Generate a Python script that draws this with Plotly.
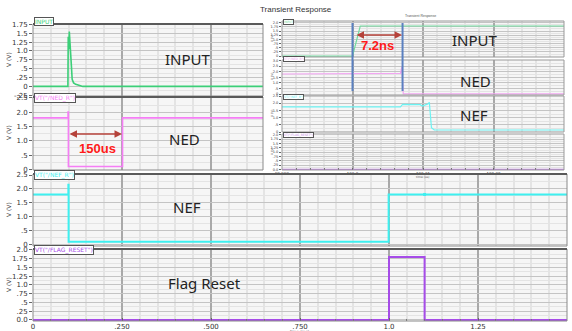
import plotly.graph_objects as go

W, H = 572, 331

# ---------------- data ----------------
x_ticks_main = [0, 0.25, 0.5, 0.75, 1.0, 1.25, 1.5]
x_ticklabels_main = ["0", ".250", ".500", ".750", "1.0", "1.25", "1.5"]

t_input = [0, 0.098, 0.099, 0.1005, 0.102, 0.1035, 0.106, 0.108, 0.110, 0.114, 0.12, 0.13, 0.14, 0.646]
v_input = [0, 0, 1.40, 1.05, 1.55, 1.35, 0.95, 0.55, 0.20, 0.10, 0.06, 0.03, 0.0, 0.0]

t_ned = [0, 0.0985, 0.0985, 0.0995, 0.0995, 0.2515, 0.2515, 0.646]
v_ned = [1.8, 1.8, 2.0, 2.0, 0.1, 0.1, 1.8, 1.8]

t_nef = [0, 0.0993, 0.0993, 0.1, 0.1, 0.999, 0.999, 1.5]
v_nef = [1.8, 1.8, 2.15, 2.15, 0.1, 0.1, 1.8, 1.8]

t_flag = [0, 1.0, 1.0, 1.1, 1.1, 1.5]
v_flag = [0, 0, 1.8, 1.8, 0, 0]

yt_p1 = [-0.25, 0, 0.25, 0.5, 0.75, 1.0, 1.25, 1.5, 1.75]
yl_p1 = ["-.25", "0", ".25", ".5", ".75", "1.0", "1.25", "1.5", "1.75"]
yt_p23 = [0, 0.5, 1.0, 1.5, 2.0, 2.5]
yl_p23 = ["0", ".5", "1.0", "1.5", "2.0", "2.5"]
yt_p4 = [0, 0.25, 0.5, 0.75, 1.0, 1.25, 1.5, 1.75, 2.0]
yl_p4 = ["0.0", ".25", ".5", ".75", "1.0", "1.25", "1.5", "1.75", "2.0"]

# inset (zoom around 100 us)
x_ticks_in = [99.99, 100.0, 100.01, 100.02]
x_ticklabels_in = ["99.990", "100.0", "100.01", "100.02"]
ti_input = [99.99, 100.0, 100.0011, 100.03]
vi_input = [0.0, 0.0, 1.8, 1.8]
ti_ned = [99.99, 100.0064, 100.0068, 100.0070, 100.0072, 100.03]
vi_ned = [1.8, 1.8, 1.85, 2.45, 0.02, 0.02]
ti_nef = [99.99, 100.0068, 100.0071, 100.0096, 100.0099, 100.0107, 100.0109, 100.0112, 100.0116, 100.03]
vi_nef = [1.75, 1.75, 1.92, 1.9, 1.8, 1.95, 2.06, 0.3, 0.14, 0.14]
ti_flag = [99.99, 100.03]
vi_flag = [0.0, 0.0]
blue_marks = [100.0, 100.0071]


def px(x):
    return x / W


def py(y):
    return 1 - y / H


GRID = "#c4c4c4"
MINOR = "#e4e4e4"
VMAJ = "#a9a9a9"

fig = go.Figure()

C_IN, C_NED, C_NEF, C_FL = "#3ccf78", "#f57ef5", "#3ef0f0", "#a64ce8"

fig.add_trace(go.Scatter(x=t_flag, y=v_flag, xaxis="x", yaxis="y", mode="lines",
                         line=dict(color=C_FL, width=2)))
fig.add_trace(go.Scatter(x=t_nef, y=v_nef, xaxis="x", yaxis="y2", mode="lines",
                         line=dict(color=C_NEF, width=2)))
fig.add_trace(go.Scatter(x=[1.1], y=[1.8], xaxis="x", yaxis="y2", mode="markers",
                         marker=dict(color=C_NEF, size=3, symbol="square")))
fig.add_trace(go.Scatter(x=t_input, y=v_input, xaxis="x2", yaxis="y3", mode="lines",
                         line=dict(color=C_IN, width=1.6)))
fig.add_trace(go.Scatter(x=t_ned, y=v_ned, xaxis="x2", yaxis="y4", mode="lines",
                         line=dict(color=C_NED, width=1.6)))

CI_IN, CI_NED, CI_NEF, CI_FL = "#72dba0", "#f2a6f2", "#6cf2f2", "#c689e6"
fig.add_trace(go.Scatter(x=ti_input, y=vi_input, xaxis="x3", yaxis="y5", mode="lines",
                         line=dict(color=CI_IN, width=1.2)))
fig.add_trace(go.Scatter(x=ti_ned, y=vi_ned, xaxis="x3", yaxis="y6", mode="lines",
                         line=dict(color=CI_NED, width=1.2)))
fig.add_trace(go.Scatter(x=ti_nef, y=vi_nef, xaxis="x3", yaxis="y7", mode="lines",
                         line=dict(color=CI_NEF, width=1.2)))
fig.add_trace(go.Scatter(x=ti_flag, y=vi_flag, xaxis="x3", yaxis="y8", mode="lines",
                         line=dict(color=CI_FL, width=1.5)))


def yax(top, bot, rng, tv, tt, anchor, minor_dt, fs=7, tl=3):
    return dict(domain=[py(bot), py(top)], range=rng, anchor=anchor, automargin=False,
                tickmode="array", tickvals=tv, ticktext=tt,
                showgrid=True, gridcolor=GRID, gridwidth=1,
                minor=dict(dtick=minor_dt, tick0=0, showgrid=True, gridcolor=MINOR, ticks=""),
                ticks="outside", ticklen=tl, tickcolor="#666",
                tickfont=dict(family="DejaVu Sans", size=fs, color="#333"),
                zeroline=False, showline=False, fixedrange=True)


def xax(l, r, rng, anchor, tv, tt, show, minor_dt, fs=7, tl=3):
    return dict(domain=[px(l), px(r)], range=rng, anchor=anchor, automargin=False,
                tickmode="array", tickvals=tv, ticktext=tt, showticklabels=show,
                showgrid=True, gridcolor=VMAJ, gridwidth=1.5,
                minor=dict(dtick=minor_dt, tick0=0, showgrid=True, gridcolor=MINOR,
                           ticks="inside" if show else "", ticklen=2, tickcolor="#777"),
                ticks="inside" if show else "", ticklen=tl, tickcolor="#666",
                tickfont=dict(family="DejaVu Sans", size=fs, color="#333"),
                zeroline=False, showline=False, fixedrange=True)


layout = dict(
    width=W, height=H, margin=dict(l=0, r=0, t=0, b=0, pad=0, autoexpand=False),
    paper_bgcolor="white", plot_bgcolor="#f6f6f6", showlegend=False,
    xaxis=xax(33, 567, [0, 1.5], "y", x_ticks_main, x_ticklabels_main, True, 0.05),
    xaxis2=xax(33, 263, [0, 230 / 356], "y4", x_ticks_main, x_ticklabels_main, False, 0.05),
    xaxis3=xax(282, 564, [99.99, 100.03], "y8", x_ticks_in, x_ticklabels_in, True, 0.002, fs=4, tl=2),
    yaxis=yax(249, 321, [-0.029, 2.028], yt_p4, yl_p4, "x", 0.125),
    yaxis2=yax(174, 246, [-0.054, 2.536], yt_p23, yl_p23, "x", 0.25),
    yaxis3=yax(24, 96, [-0.27, 1.76], yt_p1, yl_p1, "x2", 0.125),
    yaxis4=yax(97, 170, [-0.02, 2.53], yt_p23, yl_p23, "x2", 0.25),
    yaxis5=yax(21, 57, [-0.05, 2.1], [0, 0.25, 0.5, 0.75, 1.0, 1.25, 1.5, 1.75, 2.0],
               ["0", ".25", ".5", ".75", "1.0", "1.25", "1.5", "1.75", "2.0"], "x3", 0.125, fs=3.5, tl=2),
    yaxis6=yax(60, 95, [-0.09, 3.06], [0, 0.5, 1.0, 1.5, 2.0, 2.5, 3.0],
               ["0", ".5", "1.0", "1.5", "2.0", "2.5", "3.0"], "x3", 0.25, fs=3.5, tl=2),
    yaxis7=yax(96, 132, [0, 2.5], yt_p23, yl_p23, "x3", 0.25, fs=3.5, tl=2),
    yaxis8=yax(134, 170, [-0.03, 2.05], yt_p4, yl_p4, "x3", 0.125, fs=3.5, tl=2),
)
fig.update_layout(**layout)

shapes = []
# panel frames
for (l, t, r, b) in [(33, 24, 263, 96), (33, 97, 263, 170), (33, 174, 567, 246), (33, 249, 567, 321)]:
    shapes.append(dict(type="rect", xref="paper", yref="paper", x0=px(l), x1=px(r), y0=py(b), y1=py(t),
                       line=dict(color="#8a8a8a", width=1), layer="above"))
    shapes.append(dict(type="line", xref="paper", yref="paper", x0=px(l), x1=px(r), y0=py(t), y1=py(t),
                       line=dict(color="#5a5a5a", width=2), layer="above"))
for (l, t, r, b) in [(282, 21, 564, 57), (282, 60, 564, 95), (282, 96, 564, 132), (282, 134, 564, 170)]:
    shapes.append(dict(type="rect", xref="paper", yref="paper", x0=px(l), x1=px(r), y0=py(b), y1=py(t),
                       line=dict(color="#999", width=1), layer="above"))
# blue marker lines in inset
for bx in blue_marks:
    shapes.append(dict(type="line", xref="x3", yref="paper", x0=bx, x1=bx, y0=py(91), y1=py(23),
                       line=dict(color="#5a80c0", width=2), layer="above"))
fig.update_layout(shapes=shapes)

ann = []


def txt(x, y, s, size, color="#222", family="Noto Sans", bold=False, **kw):
    if bold:
        s = "<b>" + s + "</b>"
    d = dict(x=px(x), y=py(y), xref="paper", yref="paper", text=s, showarrow=False,
             xanchor="center", yanchor="middle",
             font=dict(family=family, size=size, color=color))
    d.update(kw)
    ann.append(d)


txt(296, 10, "Transient Response", 8, color="#333", family="Liberation Sans")
txt(420, 16, "Transient Response", 3.5, color="#555", family="Liberation Sans")

txt(188, 59, "INPUT", 15)
txt(184, 139, "NED", 15)
txt(187, 207, "NEF", 15)
txt(204, 283, "Flag Reset", 15)
txt(475, 40, "INPUT", 15)
txt(475, 81, "NED", 15)
txt(474, 115, "NEF", 15)

txt(97, 148, "150us", 13, color="#ff1a1a", family="Liberation Sans", bold=True)
txt(377, 46, "7.2ns", 13, color="#ff1a1a", family="Liberation Sans", bold=True)

# double-headed arrows
ann.append(dict(x=px(122), y=py(134), xref="paper", yref="paper", ax=-54, ay=0, text="",
                showarrow=True, arrowhead=2, arrowside="end+start", arrowsize=1,
                arrowwidth=1.5, arrowcolor="#b5423a"))
ann.append(dict(x=px(402), y=py(35), xref="paper", yref="paper", ax=-47, ay=0, text="",
                showarrow=True, arrowhead=2, arrowside="end+start", arrowsize=1,
                arrowwidth=1.5, arrowcolor="#b5423a"))

# legend tabs
for (x, y, s, c, fs) in [(34, 21, "INPUT", C_IN, 6), (34, 98, "VT(\"/NED_R\")", C_NED, 6),
                         (34, 175, "VT(\"/NEF_R\")", C_NEF, 6), (34, 250, "VT(\"/FLAG_RESET\")", C_FL, 6),
                         (283, 22, "INPUT", CI_IN, 3), (283, 59, "VT(\"/NED_R\")", CI_NED, 3),
                         (283, 97, "VT(\"/NEF_R\")", CI_NEF, 3), (283, 135, "VT(\"/FLAG_RESET\")", CI_FL, 3)]:
    txt(x, y, s, fs, color=c, family="DejaVu Sans", xanchor="left", yanchor="middle",
        bgcolor="white", bordercolor="#555", borderwidth=1, borderpad=0)

# y axis titles
for yc in [60, 133, 210, 285]:
    txt(8, yc, "V (V)", 6, color="#444", family="DejaVu Sans", textangle=-90)
for yc in [39, 77, 114, 152]:
    txt(272, yc, "V (V)", 3, color="#555", family="DejaVu Sans", textangle=-90)

txt(300, 331, "time (ms)", 4, color="#444", family="DejaVu Sans")
txt(423, 177, "time (us)", 3, color="#555", family="DejaVu Sans")

fig.update_layout(annotations=ann)
fig.write_html("out.html", config={"displayModeBar": False},
               post_script="document.body.style.margin='0';document.body.style.overflow='hidden';")
